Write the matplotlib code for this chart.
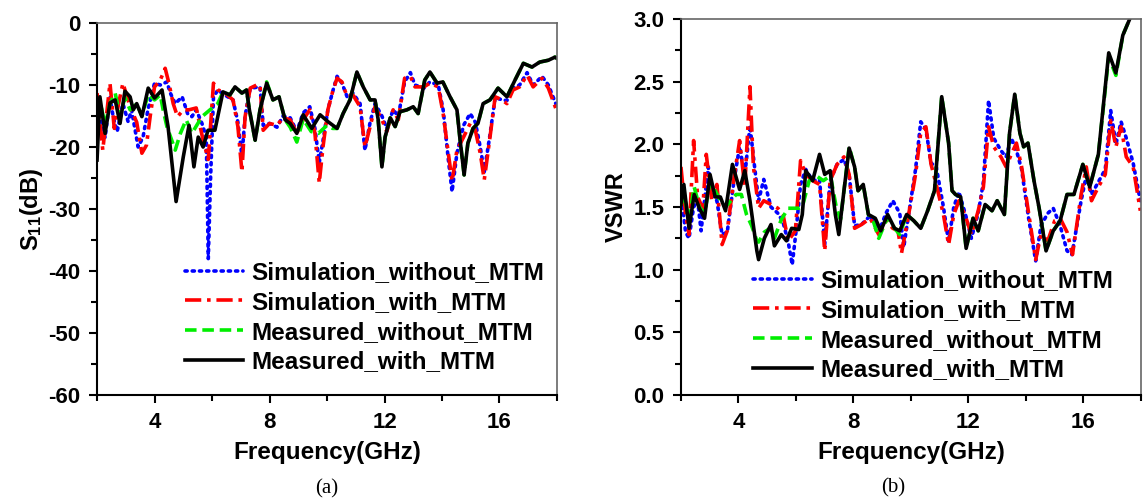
import matplotlib
matplotlib.use("Agg")
import matplotlib.pyplot as plt
from matplotlib.ticker import MultipleLocator

plt.rcParams['font.family'] = ['Liberation Sans', 'DejaVu Sans']
plt.rcParams['font.weight'] = 'bold'
plt.rcParams['mathtext.fontset'] = 'custom'
plt.rcParams['mathtext.rm'] = 'Liberation Sans:bold'
plt.rcParams['mathtext.bf'] = 'Liberation Sans:bold'
plt.rcParams['mathtext.default'] = 'bf'
plt.rcParams['axes.unicode_minus'] = False

labels = ["Simulation_without_MTM", "Simulation_with_MTM",
          "Measured_without_MTM", "Measured_with_MTM"]

# ---------------- (a) S11 data ----------------
f_s11_sim_wo = [2.0, 2.28, 2.45, 2.56, 2.7, 2.9, 3.08, 3.2, 3.43, 3.6, 3.77, 4.0, 4.2, 4.43, 4.55, 4.72,
                4.96, 5.15, 5.3, 5.45, 5.65, 5.8, 5.87, 5.95, 6.05, 6.2, 6.4, 6.73, 6.9, 7.04, 7.15, 7.33,
                7.67, 7.78, 8.0, 8.26, 8.47, 8.72, 8.95, 9.17, 9.4, 9.58, 9.73, 9.86, 10.03, 10.2, 10.35,
                10.52, 10.7, 10.9, 11.15, 11.32, 11.5, 11.67, 11.91, 12.08, 12.3, 12.48, 12.7, 12.9, 13.06,
                13.37, 13.58, 13.87, 14.04, 14.22, 14.35, 14.52, 14.75, 14.98, 15.16, 15.33, 15.47, 15.67,
                15.85, 16.09, 16.26, 16.47, 16.7, 16.96, 17.17, 17.48, 17.7, 18.0]
s11_sim_wo = [-12.4, -18.5, -12.0, -15.1, -17.5, -13.0, -15.9, -14.0, -20.0, -18.4, -14.0, -9.7, -10.0,
              -9.5, -11.3, -13.0, -11.9, -14.6, -15.1, -14.0, -16.2, -18.4, -38.0, -25.0, -12.0, -10.8,
              -11.5, -12.4, -16.0, -21.5, -15.0, -10.5, -10.3, -16.5, -16.2, -16.8, -15.0, -15.3, -17.5,
              -14.5, -13.5, -17.0, -22.5, -19.0, -14.0, -11.0, -8.6, -9.7, -11.9, -11.3, -13.0, -20.5,
              -16.0, -13.0, -15.0, -17.0, -14.0, -15.0, -9.5, -8.0, -10.0, -10.5, -9.5, -10.0, -14.0,
              -22.0, -27.2, -21.0, -16.5, -14.6, -16.0, -20.0, -24.0, -18.0, -12.0, -12.4, -12.5, -10.5,
              -10.0, -8.0, -10.0, -8.6, -10.0, -13.5]

f_s11_sim_w = [2.0, 2.2, 2.45, 2.6, 2.75, 2.9, 3.15, 3.38, 3.56, 3.72, 3.85, 4.0, 4.2, 4.37, 4.5, 4.65,
               4.8, 5.0, 5.2, 5.45, 5.69, 5.87, 6.05, 6.2, 6.4, 6.73, 6.9, 7.04, 7.15, 7.33, 7.55, 7.67,
               7.78, 8.0, 8.26, 8.47, 8.72, 8.95, 9.17, 9.4, 9.58, 9.73, 9.86, 10.03, 10.2, 10.35, 10.52,
               10.7, 10.9, 11.15, 11.32, 11.5, 11.67, 11.91, 12.08, 12.3, 12.48, 12.7, 12.9, 13.06, 13.37,
               13.58, 13.87, 14.04, 14.22, 14.35, 14.52, 14.75, 14.98, 15.16, 15.33, 15.47, 15.67, 15.85,
               16.09, 16.26, 16.47, 16.7, 16.96, 17.17, 17.48, 17.7, 18.0]
s11_sim_w = [-11.3, -20.5, -9.7, -17.0, -13.0, -9.7, -13.5, -16.0, -21.0, -19.7, -15.0, -10.3, -9.2,
             -7.3, -9.7, -13.0, -15.1, -14.0, -14.0, -13.7, -18.9, -22.0, -9.7, -10.8, -11.1, -12.4,
             -16.7, -24.0, -15.1, -10.5, -10.0, -10.0, -17.3, -16.2, -16.5, -15.3, -15.6, -17.8, -15.6,
             -14.0, -17.8, -25.8, -20.0, -14.0, -11.0, -8.9, -9.5, -11.9, -11.6, -13.5, -20.0, -16.7,
             -13.5, -15.6, -17.5, -14.0, -15.6, -8.9, -8.6, -10.3, -10.3, -9.7, -10.3, -14.6, -21.0,
             -25.5, -20.5, -18.4, -16.2, -17.3, -21.0, -25.3, -18.4, -11.9, -12.4, -13.0, -10.8, -10.3,
             -8.4, -10.3, -8.9, -10.5, -14.3]

f_s11_meas_wo = [2.0, 2.1, 2.28, 2.45, 2.63, 2.8, 2.97, 3.15, 3.38, 3.56, 3.78, 4.0, 4.2, 4.3, 4.43, 4.72,
                 4.9, 5.1, 5.3, 5.65, 5.93, 6.2, 6.38, 6.62, 6.8, 7.04, 7.2, 7.3, 7.5, 7.67, 7.9, 8.12,
                 8.33, 8.54, 8.72, 8.95, 9.17, 9.45, 9.7, 10.0, 10.2, 10.35, 10.56, 10.8, 11.04, 11.26,
                 11.5, 11.67, 11.78, 11.91, 12.02, 12.2, 12.37, 12.54, 12.78, 13.0, 13.17, 13.4, 13.58,
                 13.83, 14.03, 14.28, 14.52, 14.63, 14.77, 14.9, 15.08, 15.25, 15.43, 15.67, 15.95, 16.26,
                 16.54, 16.83, 17.13, 17.4, 17.7, 17.93, 18.0]
s11_meas_wo = [-14.0, -12.5, -16.5, -13.0, -11.3, -15.0, -12.0, -14.0, -13.0, -15.0, -11.5, -12.4, -11.6,
               -14.0, -16.7, -20.5, -17.8, -15.6, -17.8, -15.1, -14.0, -13.0, -11.1, -11.6, -10.3, -11.3,
               -10.8, -14.0, -18.9, -14.0, -9.5, -12.4, -11.9, -15.6, -16.8, -19.2, -15.5, -17.5, -17.8,
               -16.5, -17.0, -17.0, -14.6, -12.4, -7.9, -10.3, -12.4, -12.4, -15.6, -23.2, -18.4, -15.3,
               -16.7, -14.3, -14.0, -13.5, -14.6, -9.2, -7.9, -9.7, -9.5, -11.9, -14.0, -18.9, -24.5,
               -19.4, -17.0, -16.2, -13.0, -12.4, -10.5, -11.9, -9.2, -6.5, -7.1, -6.3, -6.0, -5.5, -5.7]

f_s11_meas_w = [2.0, 2.1, 2.28, 2.45, 2.63, 2.8, 2.97, 3.15, 3.26, 3.38, 3.56, 3.78, 4.0, 4.26, 4.47, 4.75,
                5.0, 5.2, 5.37, 5.52, 5.69, 5.86, 6.1, 6.38, 6.62, 6.8, 7.04, 7.2, 7.3, 7.5, 7.67, 7.9,
                8.12, 8.33, 8.54, 8.72, 8.95, 9.17, 9.47, 9.76, 10.03, 10.35, 10.56, 10.8, 11.04, 11.26,
                11.5, 11.67, 11.78, 11.91, 12.02, 12.2, 12.37, 12.54, 12.78, 13.0, 13.17, 13.4, 13.58,
                13.83, 14.03, 14.28, 14.52, 14.63, 14.77, 14.9, 15.08, 15.25, 15.43, 15.67, 15.95, 16.26,
                16.54, 16.83, 17.13, 17.4, 17.7, 17.93, 18.0]
s11_meas_w = [-22.1, -11.9, -17.8, -12.9, -12.4, -16.2, -11.0, -11.9, -14.0, -13.0, -15.1, -10.5, -12.1,
              -10.8, -16.7, -28.8, -21.6, -16.5, -23.2, -18.4, -20.0, -17.3, -17.3, -11.1, -11.6, -10.3,
              -11.3, -10.8, -14.0, -18.9, -14.0, -9.7, -12.4, -11.9, -15.6, -16.2, -17.8, -14.8, -17.0,
              -14.8, -15.9, -17.0, -14.6, -12.4, -7.9, -10.3, -12.4, -12.4, -15.6, -23.2, -18.4, -15.3,
              -16.7, -14.3, -14.0, -13.5, -14.6, -9.2, -7.9, -9.7, -9.5, -11.9, -14.0, -18.9, -24.5,
              -19.4, -17.0, -16.2, -13.0, -12.4, -10.5, -11.9, -9.2, -6.5, -7.1, -6.3, -6.0, -5.5, -5.7]

# ---------------- (b) VSWR data ----------------
f_vswr_sim_wo = [2.0, 2.16, 2.28, 2.44, 2.58, 2.7, 2.95, 3.07, 3.25, 3.43, 3.61, 3.85, 4.04, 4.22, 4.4,
                 4.52, 4.7, 4.88, 5.13, 5.37, 5.55, 5.73, 5.87, 6.0, 6.16, 6.34, 6.58, 6.82, 7.0, 7.19,
                 7.43, 7.67, 7.85, 8.04, 8.28, 8.58, 8.88, 9.13, 9.37, 9.61, 9.75, 9.92, 10.16, 10.34,
                 10.52, 10.7, 10.88, 11.13, 11.31, 11.49, 11.67, 11.92, 12.1, 12.34, 12.52, 12.7, 12.88,
                 13.13, 13.31, 13.49, 13.67, 13.85, 14.1, 14.34, 14.52, 14.76, 14.95, 15.19, 15.43, 15.6,
                 15.92, 16.1, 16.28, 16.52, 16.76, 16.95, 17.13, 17.31, 17.49, 17.73, 17.98]
vswr_sim_wo = [1.62, 1.3, 1.25, 1.5, 1.55, 1.31, 1.82, 1.6, 1.55, 1.28, 1.3, 1.72, 1.98, 1.75, 2.15,
               1.9, 1.55, 1.72, 1.5, 1.45, 1.38, 1.22, 1.04, 1.3, 1.68, 1.8, 1.71, 1.72, 1.2, 1.71,
               1.84, 1.88, 1.76, 1.35, 1.36, 1.43, 1.3, 1.45, 1.55, 1.45, 1.18, 1.44, 1.8, 2.18,
               2.12, 1.85, 1.82, 1.5, 1.22, 1.5, 1.62, 1.42, 1.25, 1.45, 1.7, 2.35, 2.05,
               1.95, 1.9, 2.05, 1.95, 1.8, 1.4, 1.07, 1.35, 1.45, 1.49, 1.35, 1.15, 1.12,
               1.55, 1.75, 1.6, 1.7, 1.8, 2.27, 2.0, 2.18, 2.05, 1.85, 1.55]

f_vswr_sim_w = [2.0, 2.16, 2.28, 2.44, 2.58, 2.76, 2.88, 3.07, 3.25, 3.43, 3.61, 3.85, 4.04, 4.22, 4.4,
                4.52, 4.7, 4.88, 5.13, 5.37, 5.55, 5.73, 5.98, 6.16, 6.34, 6.58, 6.82, 7.0, 7.19, 7.43,
                7.67, 7.85, 8.04, 8.28, 8.58, 8.88, 9.13, 9.37, 9.55, 9.67, 9.92, 10.16, 10.34, 10.52,
                10.7, 10.88, 11.13, 11.31, 11.49, 11.67, 11.92, 12.1, 12.34, 12.52, 12.7, 12.88, 13.13,
                13.31, 13.49, 13.67, 13.85, 14.1, 14.34, 14.52, 14.76, 15.0, 15.19, 15.43, 15.62, 15.92,
                16.1, 16.28, 16.52, 16.76, 16.95, 17.13, 17.31, 17.49, 17.73, 17.98]
vswr_sim_w = [1.82, 1.44, 1.28, 2.03, 1.58, 1.49, 1.92, 1.55, 1.68, 1.2, 1.31, 1.74, 2.03, 1.66, 2.46,
              1.82, 1.49, 1.55, 1.52, 1.49, 1.44, 1.23, 1.31, 1.87, 1.76, 1.71, 1.68, 1.15, 1.71, 1.84,
              1.9, 1.76, 1.33, 1.36, 1.41, 1.28, 1.39, 1.33, 1.31, 1.13, 1.44, 1.76, 2.09, 2.14,
              1.84, 1.68, 1.44, 1.2, 1.44, 1.55, 1.41, 1.28, 1.47, 1.66, 2.14, 1.98, 1.9,
              1.82, 1.92, 2.01, 1.82, 1.44, 1.08, 1.28, 1.23, 1.39, 1.41, 1.3, 1.12, 1.6,
              1.82, 1.55, 1.66, 1.76, 2.19, 1.98, 2.14, 1.9, 1.82, 1.47]

f_vswr_meas_wo = [2.0, 2.1, 2.28, 2.46, 2.64, 2.82, 3.01, 3.19, 3.37, 3.55, 3.92, 4.1, 4.28, 4.46, 4.64,
                  4.7, 4.9, 5.1, 5.25, 5.49, 5.73, 6.1, 6.22, 6.46, 6.7, 6.95, 7.2, 7.4, 7.55, 7.67, 7.85,
                  8.04, 8.16, 8.34, 8.52, 8.7, 8.88, 9.19, 9.43, 9.61, 9.85, 10.1, 10.34, 10.58, 10.82,
                  11.07, 11.31, 11.43, 11.55, 11.73, 11.92, 12.16, 12.34, 12.58, 12.82, 13.0, 13.25, 13.43,
                  13.61, 13.79, 13.92, 14.07, 14.28, 14.46, 14.7, 14.95, 15.19, 15.43, 15.67, 15.98, 16.22,
                  16.52, 16.88, 17.13, 17.37, 17.61, 17.8, 18.0]
vswr_meas_wo = [1.52, 1.6, 1.4, 1.66, 1.5, 1.45, 1.7, 1.63, 1.55, 1.5, 1.6, 1.6, 1.44, 1.35, 1.23,
                1.22, 1.3, 1.33, 1.25, 1.4, 1.49, 1.49, 1.5, 1.71, 1.75, 1.71, 1.75, 1.5, 1.4, 1.63, 1.98,
                1.82, 1.63, 1.68, 1.44, 1.38, 1.25, 1.42, 1.33, 1.28, 1.44, 1.39, 1.33, 1.47, 1.63,
                2.38, 2.01, 1.63, 1.6, 1.58, 1.17, 1.41, 1.31, 1.52, 1.47, 1.55, 1.44, 2.09,
                2.4, 2.09, 1.98, 2.01, 1.71, 1.49, 1.15, 1.31, 1.39, 1.6, 1.6, 1.84, 1.66,
                1.92, 2.7, 2.55, 2.87, 3.0, 3.1, 3.2]

f_vswr_meas_w = [2.0, 2.1, 2.28, 2.46, 2.64, 2.82, 3.01, 3.19, 3.37, 3.55, 3.79, 4.04, 4.22, 4.4, 4.64,
                 4.7, 4.9, 5.13, 5.25, 5.49, 5.67, 5.85, 6.1, 6.22, 6.34, 6.58, 6.82, 7.0, 7.19, 7.37,
                 7.49, 7.67, 7.85, 8.04, 8.16, 8.34, 8.52, 8.76, 8.95, 9.19, 9.43, 9.61, 9.85, 10.1,
                 10.34, 10.58, 10.82, 11.07, 11.31, 11.43, 11.55, 11.73, 11.92, 12.16, 12.34, 12.58,
                 12.82, 13.0, 13.25, 13.43, 13.61, 13.79, 13.92, 14.07, 14.28, 14.46, 14.7, 14.95,
                 15.19, 15.43, 15.67, 15.98, 16.22, 16.52, 16.88, 17.13, 17.37, 17.61, 17.8, 18.0]
vswr_meas_w = [1.52, 1.68, 1.33, 1.6, 1.49, 1.41, 1.76, 1.58, 1.58, 1.47, 1.84, 1.64, 1.79, 1.55, 1.15,
               1.08, 1.25, 1.36, 1.19, 1.28, 1.23, 1.33, 1.32, 1.44, 1.79, 1.71, 1.92, 1.76, 1.79, 1.44,
               1.28, 1.63, 1.97, 1.82, 1.63, 1.68, 1.44, 1.41, 1.31, 1.44, 1.33, 1.31, 1.44, 1.39,
               1.33, 1.47, 1.63, 2.38, 2.01, 1.63, 1.6, 1.58, 1.17, 1.41, 1.31, 1.52,
               1.47, 1.55, 1.44, 2.09, 2.4, 2.09, 1.98, 2.01, 1.71, 1.49, 1.15, 1.31,
               1.39, 1.6, 1.6, 1.84, 1.66, 1.92, 2.73, 2.57, 2.87, 3.0, 3.1, 3.2]

styles = [
    dict(color='#0000ff', linestyle=(0, (0.6, 1.4)), linewidth=2.6, dash_capstyle='round'),
    dict(color='#ff0000', linestyle=(0, (4.5, 1.6, 1.0, 1.6)), linewidth=2.6),
    dict(color='#00ee00', linestyle=(0, (3.2, 1.6)), linewidth=2.6),
    dict(color='black', linestyle='-', linewidth=2.6),
]

fig = plt.figure(figsize=(11.47, 5.04), dpi=100)
axa = fig.add_axes([0.0846, 0.2163, 0.4010, 0.738])
axb = fig.add_axes([0.5937, 0.2163, 0.4010, 0.746])

series_a = [(f_s11_sim_wo, s11_sim_wo), (f_s11_sim_w, s11_sim_w),
            (f_s11_meas_wo, s11_meas_wo), (f_s11_meas_w, s11_meas_w)]
series_b = [(f_vswr_sim_wo, vswr_sim_wo), (f_vswr_sim_w, vswr_sim_w),
            (f_vswr_meas_wo, vswr_meas_wo), (f_vswr_meas_w, vswr_meas_w)]

for ax, series in ((axa, series_a), (axb, series_b)):
    for (fx, fy), st, lab in zip(series, styles, labels):
        ax.plot(fx, fy, label=lab, **st)
    ax.set_xlim(2, 18)
    ax.xaxis.set_major_locator(MultipleLocator(4))
    ax.xaxis.set_minor_locator(MultipleLocator(2))
    ax.tick_params(which='both', direction='out', top=False, right=False, width=1.5,
                   labelsize=16, pad=6)
    ax.tick_params(which='major', length=6)
    ax.tick_params(which='minor', length=4)
    for sp in ('left', 'bottom'):
        ax.spines[sp].set_linewidth(1.5)
    for sp in ('top', 'right'):
        ax.spines[sp].set_linewidth(1.2)
        ax.spines[sp].set_color('#666666')
    ax.set_xlabel('Frequency(GHz)', fontsize=17.5, fontweight='bold', labelpad=6)
    for t in ax.get_xticklabels() + ax.get_yticklabels():
        t.set_fontweight('bold')

axa.set_xticks([4, 8, 12, 16])
axa.set_ylim(-60, 0)
axa.yaxis.set_major_locator(MultipleLocator(10))
axa.yaxis.set_minor_locator(MultipleLocator(5))
axa.set_ylabel('S$_{11}$(dB)', fontsize=17, fontweight='bold', labelpad=2)

axb.set_ylim(0, 3)
axb.yaxis.set_major_locator(MultipleLocator(0.5))
axb.yaxis.set_minor_locator(MultipleLocator(0.25))
axb.yaxis.set_major_formatter(matplotlib.ticker.FormatStrFormatter('%.1f'))
axb.set_ylabel('VSWR', fontsize=17, fontweight='bold', labelpad=4)

leg_kw = dict(frameon=False, fontsize=17.5, handlelength=2.4, handletextpad=0.35,
              labelspacing=0.28, borderpad=0, borderaxespad=0, loc='upper left')
la = axa.legend(bbox_to_anchor=(0.191, 0.36), **leg_kw)
lb = axb.legend(bbox_to_anchor=(0.157, 0.335), **leg_kw)
for leg in (la, lb):
    for t in leg.get_texts():
        t.set_fontweight('bold')

fig.text(0.285, 0.031, '(a)', fontsize=15, family='Liberation Serif', weight='normal',
         ha='center', va='center')
fig.text(0.7786, 0.033, '(b)', fontsize=15, family='Liberation Serif', weight='normal',
         ha='center', va='center')

fig.savefig('out.png', dpi=100)
